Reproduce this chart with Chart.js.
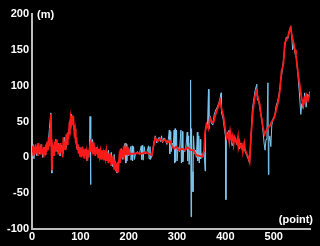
<!DOCTYPE html>
<html>
<head>
<meta charset="utf-8">
<script src="https://cdn.jsdelivr.net/npm/chart.js@4/dist/chart.umd.min.js"></script>
<style>
  html, body { margin: 0; padding: 0; background: #000; }
  #wrap { width: 320px; height: 246px; position: relative; }
</style>
</head>
<body>
<div id="wrap"><canvas id="myChart"></canvas></div>
<script>
// ------------------ DATA ------------------ //
const xTicks = [0, 100, 200, 300, 400, 500];
const yTicks = [-100, -50, 0, 50, 100, 150, 200];

// smoothed track (red)
const redX = [0, 1.5, 3, 4.5, 6, 7.5, 9, 10.5, 12, 13.5, 15, 16.5, 18, 19.5, 21, 22.5, 24, 25.5, 27, 28.5, 30, 31.5, 33, 34.5, 36, 37.5, 39, 40, 41, 42.5, 44, 45.5, 47, 48.5, 50, 51.5, 53, 54.5, 56, 57.5, 59, 60.5, 62, 63.5, 65, 66.5, 68, 69.5, 71, 72.5, 74, 75.5, 77, 78.5, 80, 81.5, 83, 84.5, 86, 87.5, 89, 90.5, 92, 93.5, 95, 96.5, 98, 99.5, 101, 102.5, 104, 105.5, 107, 108.5, 110, 111.5, 113, 114.5, 116, 117.5, 119, 120.5, 122, 123.5, 125, 126.5, 128, 129.5, 131, 132.5, 134, 135.5, 137, 138.5, 140, 141.5, 143, 144.5, 146, 147.5, 149, 150.5, 152, 153.5, 155, 156.5, 158, 159.5, 161, 162.5, 164, 165.5, 167, 168.5, 170, 171.5, 173, 174.5, 176, 177.5, 179, 180.5, 182, 183.5, 185, 186.5, 188, 189.5, 191, 192.5, 194, 195.5, 197, 198.5, 202, 210, 218, 226, 234, 242, 248, 252, 255, 260, 265, 270, 275, 280, 285, 290, 294, 298, 304, 310, 316, 322, 328, 334, 340, 346, 352, 356, 358, 361, 365, 368, 372, 375, 379, 382, 386, 389, 392, 396, 400, 403, 406, 408, 410, 413, 415, 417, 419, 421, 424, 426, 427, 429, 431, 434, 436, 437, 439, 441, 444, 447, 450, 453, 457, 461, 464, 467, 471, 474, 478, 481, 485, 488, 492, 496, 499, 503, 506, 510, 513, 516, 520, 523, 527, 530, 533, 535, 538, 541, 544, 546, 549, 551, 555, 558, 561, 564, 566, 568, 571, 575];
const redY = [8, 16, 2, 14, 4, 18, 6, 15, 2, 20, 8, 14, 4, 18, 6, 12, 0, 14, 5, 18, 8, 22, 10, 28, 15, 40, 60, 25, -18, 8, 18, 2, 22, 8, 25, 10, 20, 4, 18, 5, 20, 8, 15, 0, 28, 12, 22, 10, 32, 18, 35, 25, 42, 38, 55, 48, 58, 45, 50, 35, 40, 20, 28, 12, 18, 5, 14, 2, 12, 0, 15, 3, 10, -2, 12, 2, 8, -5, 10, 0, 12, 18, 8, 22, 10, 15, 4, 12, 2, 14, 5, 10, 0, 12, 2, 8, -2, 10, 2, 6, -3, 10, 0, 8, -5, 6, -8, 5, -6, 4, -12, 0, -10, 2, -16, -5, -18, -8, -20, -6, -12, 0, -8, 12, -2, 10, 0, 15, 5, 12, 3, 10, 4, 12, 5, 5, 6, 5, 7, 5, 3, 18, 27, 22, 26, 22, 25, 20, 23, 15, 12, 15, 10, 12, 10, 14, 10, 10, 3, 2, 1, 10, 35, 46, 40, 55, 50, 48, 58, 65, 72, 79, 68, 57, 37, 27, 32, 22, 36, 25, 30, 18, 28, 25, 20, 28, 15, 22, 15, 18, 8, 13, 20, 10, 5, 1, -6, 30, 65, 85, 92, 85, 74, 58, 41, 32, 38, 41, 44, 50, 52, 60, 69, 80, 95, 120, 130, 160, 165, 170, 178, 181, 168, 160, 150, 142, 125, 114, 95, 81, 72, 82, 78, 86, 80, 90];

// raw measurements (blue)
const blueX = [0, 2, 4, 7, 10, 13, 16, 19, 22, 25, 28, 31, 34, 37, 39, 40, 41, 43, 46, 49, 52, 55, 58, 61, 64, 67, 70, 73, 76, 79, 82, 84, 87, 90, 93, 96, 99, 102, 105, 108, 111, 114, 117, 119, 120, 121, 122, 125, 128, 131, 134, 137, 140, 143, 146, 149, 152, 155, 158, 161, 164, 167, 170, 173, 176, 179, 182, 185, 188, 191, 193, 194, 195, 196, 198, 200, 204, 205, 207, 208, 210, 212, 214, 218, 222, 226, 227, 229, 230, 232, 234, 238, 241, 242, 244, 245, 248, 252, 255, 258, 260, 263, 266, 268, 270, 273, 276, 279, 282, 284, 285, 287, 288, 290, 292, 294, 295, 296, 297, 299, 300, 302, 305, 308, 309, 311, 312, 314, 316, 318, 321, 322, 324, 325, 327, 328, 329, 330, 331, 333, 334, 336, 338, 340, 342, 343, 345, 346, 348, 349, 351, 353, 356, 358, 359, 361, 363, 365, 366, 368, 371, 374, 377, 380, 383, 386, 389, 391, 392, 395, 398, 400, 401, 402, 405, 408, 411, 414, 417, 420, 423, 426, 429, 432, 435, 438, 441, 444, 447, 450, 453, 456, 459, 462, 465, 466, 469, 472, 475, 478, 480, 482, 484, 486, 488, 489, 490, 492, 494, 496, 499, 502, 505, 508, 511, 514, 517, 520, 523, 526, 529, 532, 535, 537, 539, 541, 544, 547, 550, 553, 556, 558, 561, 564, 567, 570, 573, 575];
const blueY = [5, 18, -2, 16, 2, 20, 5, 18, 0, 14, 3, 20, 22, 48, 62, 20, -22, 12, 2, 25, 8, 20, 2, 17, 5, 28, 12, 33, 32, 52, 60, 48, 42, 25, 12, 10, 14, 2, 12, 0, 10, -5, 8, 10, 57, -38, 14, 25, 8, 10, 14, 3, 10, 0, 8, 1, 9, -3, 10, -6, 7, -13, 4, -18, -22, -5, -8, 12, -3, 17, 20, -8, 18, -5, 14, 2, 15, -4, 16, -5, 15, -3, 5, 8, 4, 16, -3, 17, -4, 15, 5, 8, 16, -2, 15, -3, 2, 20, 30, 20, 25, 28, 22, 30, 20, 27, 24, 18, 25, 38, 5, 36, 8, 20, 14, 38, -8, 40, -6, 38, -5, 14, 8, 38, -8, 36, -6, 12, 8, 12, 35, -5, 30, -10, 20, 108, -83, 40, -20, -48, 30, 5, 10, 0, 35, -5, 30, -8, 25, -2, 5, 0, 8, -19, 38, 48, 42, 95, 40, 58, 48, 45, 60, 66, 70, 75, 82, 90, 62, 55, 40, 30, -59, 30, 35, 38, 28, 16, 22, 28, 18, 24, 12, 20, 10, 12, 8, 3, -2, -8, 28, 68, 82, 95, 102, 80, 78, 65, 55, 35, 20, 10, 25, 35, 104, -24, 20, 30, 15, 45, 55, 58, 72, 78, 88, 105, 118, 135, 155, 168, 165, 175, 183, 172, 150, 158, 145, 138, 115, 90, 60, 75, 68, 90, 70, 88, 85, 92];

function toPoints(xs, ys) {
  return xs.map((x, i) => ({ x: x, y: ys[i] }));
}

// ------------------ CHART ------------------ //
const axisLabels = {
  id: "axisLabels",
  afterDraw(chart) {
    const c = chart.ctx;
    const area = chart.chartArea;
    c.save();
    c.fillStyle = "#ffffff";
    c.font = "bold 11px 'Liberation Sans', Arial, sans-serif";
    c.textBaseline = "middle";
    c.textAlign = "left";
    c.fillText("(m)", area.left + 5, area.top + 1);
    c.textAlign = "right";
    c.fillText("(point)", 313, area.bottom - 9);
    c.restore();
  }
};

const ctx = document.getElementById("myChart").getContext("2d");
let chart = new Chart(ctx, {
  type: "line",
  data: {
    datasets: [
      {
        label: "smoothed",
        data: toPoints(redX, redY),
        borderColor: "#ff1a1a",
        borderWidth: 1.8,
        pointRadius: 0,
        tension: 0,
        order: 0
      },
      {
        label: "raw",
        data: toPoints(blueX, blueY),
        borderColor: "#7cc6ee",
        borderWidth: 1,
        pointRadius: 0,
        tension: 0,
        order: 1
      }
    ]
  },
  options: {
    responsive: true,
    maintainAspectRatio: false,
    animation: false,
    layout: { padding: { top: 14, right: 10, left: 0, bottom: 0 } },
    plugins: { legend: { display: false }, tooltip: { enabled: false } },
    scales: {
      x: {
        type: "linear",
        min: 0,
        max: 575,
        afterBuildTicks: axis => { axis.ticks = xTicks.map(v => ({ value: v })); },
        afterFit: axis => { axis.height = 17; },
        grid: { display: false, drawTicks: false },
        border: { display: true, color: "#bdbdbd", width: 2 },
        ticks: { color: "#ffffff", padding: 1, maxRotation: 0,
                 font: { family: "'Liberation Sans', Arial, sans-serif", size: 11, weight: "bold" } }
      },
      y: {
        min: -100,
        max: 200,
        afterBuildTicks: axis => { axis.ticks = yTicks.map(v => ({ value: v })); },
        afterFit: axis => { axis.width = 32; },
        grid: { display: false, drawTicks: false },
        border: { display: true, color: "#bdbdbd", width: 2 },
        ticks: { color: "#ffffff", padding: 3,
                 font: { family: "'Liberation Sans', Arial, sans-serif", size: 11, weight: "bold" } }
      }
    }
  },
  plugins: [axisLabels]
});
</script>
</body>
</html>
